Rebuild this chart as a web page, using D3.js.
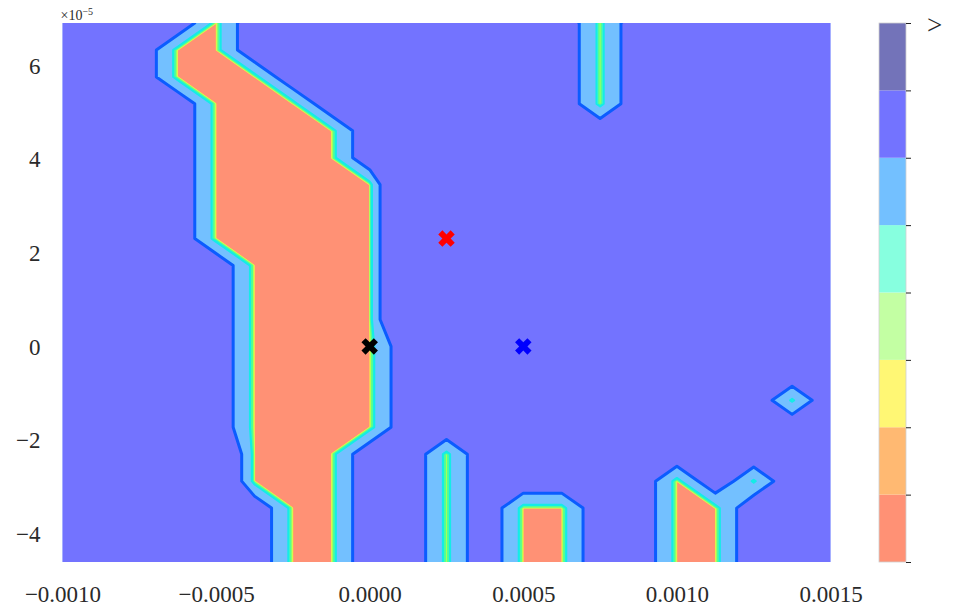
<!DOCTYPE html>
<html><head><meta charset="utf-8">
<script src="https://cdn.jsdelivr.net/npm/d3@7"></script>
<style>body{margin:0;background:#fff;} svg{display:block;}</style>
</head><body>
<svg id="chart" width="956" height="616"></svg>
<script>
// ---------------- data ----------------
const xExtent = [-0.0010, 0.0015];
const yExtent = [-4.6e-5, 6.9e-5];
// 21 x 21 grid of the field, top row (largest y) first, one character per grid point
const gridRows = [
  "....#.........y......",
  "...##.........y......",
  "...###........y......",
  "....###.......y......",
  "....####.............",
  "....####.............",
  "....#####h...........",
  "....#####h...........",
  "....#####h...........",
  ".....####h...........",
  ".....####h...........",
  ".....####h...........",
  ".....####............",
  ".....####............",
  ".....####..........c.",
  ".....####............",
  "....m###..y..........",
  "....m###..y.....#.c..",
  "......##..y.##..##...",
  "......##..y.##..##...",
  "......##..y.##..##..."
];
const cellKey   = [".", "h", "m", "#", "y", "c"];
const cellValue = [1.8, 3.7, 3.0, 0.0, 0.05, 0.125];
const levels = [0, 0.02, 0.04, 0.07, 0.12, 0.21, 1.0, 4.0, 5.0];
const bandColors = ["#ff9175", "#ffb972", "#fff774", "#c3ffa3", "#87ffdf", "#73c0ff", "#7373ff", "#7373b9"];
const lineColors = ["#ff9a62", "#f4f050", "#b4ff52", "#52ff94", "#14ece6", "#0b5cff"];
const xTicks = [-0.0010, -0.0005, 0.0, 0.0005, 0.0010, 0.0015];
const yTicks = [-4e-5, -2e-5, 0, 2e-5, 4e-5, 6e-5];
const markerX = [0.00025, 0.0005, 0.0];
const markerY = [2.3e-5, 0.0, 0.0];
const markerColors = ["#ff0000", "#0000ff", "#000000"];
const colorbarTopLabel = ">";

// ---------------- layout ----------------
const plot = {left: 62.5, right: 830.5, top: 23, bottom: 562};
const cbar = {left: 879, right: 906};
const FONT = "'Liberation Serif', 'DejaVu Serif', serif";
const TEXT = "#2a2a2a";

const svg = d3.select("#chart");
const xScale = d3.scaleLinear().domain(xExtent).range([plot.left, plot.right]);
const yScale = d3.scaleLinear().domain(yExtent).range([plot.bottom, plot.top]);

const nx = gridRows[0].length, ny = gridRows.length;
const values = [];
gridRows.forEach(r => { for (const ch of r) values.push(cellValue[cellKey.indexOf(ch)]); });
const negValues = values.map(v => -v);
const dxData = (xExtent[1] - xExtent[0]) / (nx - 1);
const dyData = (yExtent[1] - yExtent[0]) / (ny - 1);

const proj = d3.geoTransform({
  point: function(u, v) {
    this.stream.point(xScale(xExtent[0] + (u - 0.5) * dxData), yScale(yExtent[1] - (v - 0.5) * dyData));
  }
});
const path = d3.geoPath(proj);
const gen = d3.contours().size([nx, ny]).smooth(true);
const above = t => gen.contour(values, t);      // region v >= t
const below = t => gen.contour(negValues, -t);  // region v <= t

svg.append("defs").append("clipPath").attr("id", "plotclip")
  .append("rect").attr("x", plot.left).attr("y", plot.top)
  .attr("width", plot.right - plot.left).attr("height", plot.bottom - plot.top);

const g = svg.append("g").attr("clip-path", "url(#plotclip)");
g.append("rect").attr("x", plot.left).attr("y", plot.top)
  .attr("width", plot.right - plot.left).attr("height", plot.bottom - plot.top)
  .attr("fill", bandColors[5]);
[6, 7].forEach(k => g.append("path").attr("d", path(above(levels[k]))).attr("fill", bandColors[k]));
[5, 4, 3, 2, 1].forEach(k => g.append("path").attr("d", path(below(levels[k]))).attr("fill", bandColors[k - 1]));

// contour lines
[1, 2, 3, 4, 5].forEach(k => g.append("path").attr("d", path(below(levels[k])))
  .attr("fill", "none").attr("stroke", lineColors[k - 1]).attr("stroke-width", 2.2).attr("stroke-linejoin", "round"));
g.append("path").attr("d", path(above(levels[6])))
  .attr("fill", "none").attr("stroke", lineColors[5]).attr("stroke-width", 3).attr("stroke-linejoin", "round");

// markers
const sym = d3.symbol().type(d3.symbolCross).size(170);
markerX.forEach((mx, i) => {
  svg.append("path").attr("d", sym())
    .attr("transform", `translate(${xScale(mx)},${yScale(markerY[i])}) rotate(45)`)
    .attr("fill", markerColors[i]);
});

// axes
const fmtX = d3.format(".4f");
const xAxis = svg.append("g").attr("transform", `translate(0,${plot.bottom})`)
  .call(d3.axisBottom(xScale).tickValues(xTicks).tickSize(0).tickFormat(d => fmtX(d)));
xAxis.select(".domain").remove();
xAxis.selectAll("text").attr("y", 40).attr("dy", 0)
  .style("font-family", FONT).style("font-size", "23px").attr("fill", TEXT);

const yAxis = svg.append("g").attr("transform", `translate(${plot.left},0)`)
  .call(d3.axisLeft(yScale).tickValues(yTicks).tickSize(0)
    .tickFormat(d => d3.format("d")(Math.round(d * 1e5))));
yAxis.select(".domain").remove();
yAxis.selectAll("text").attr("x", -22).attr("dy", "0.34em")
  .style("font-family", FONT).style("font-size", "23px").attr("fill", TEXT);

// offset text
const off = svg.append("text").attr("x", plot.left - 2).attr("y", 20)
  .style("font-family", FONT).attr("fill", TEXT);
off.append("tspan").style("font-size", "14px").text("×10");
off.append("tspan").style("font-size", "10px").attr("dy", -5).text("−5");

// colorbar
const cbScale = d3.scaleLinear().domain([0, bandColors.length]).range([plot.bottom, plot.top]);
const cb = svg.append("g");
bandColors.forEach((c, k) => {
  cb.append("rect").attr("x", cbar.left).attr("y", cbScale(k + 1))
    .attr("width", cbar.right - cbar.left).attr("height", cbScale(k) - cbScale(k + 1))
    .attr("fill", c);
});
cb.append("rect").attr("x", cbar.left).attr("y", plot.top)
  .attr("width", cbar.right - cbar.left).attr("height", plot.bottom - plot.top)
  .attr("fill", "none").attr("stroke", "#d0d0d0").attr("stroke-width", 0.8);
const cbAxis = svg.append("g").attr("transform", `translate(${cbar.right},0)`)
  .call(d3.axisRight(cbScale).tickValues(d3.range(bandColors.length + 1)).tickSize(5)
    .tickFormat(d => d === bandColors.length ? colorbarTopLabel : ""));
cbAxis.select(".domain").remove();
cbAxis.selectAll("line").attr("stroke", "#222");
cbAxis.selectAll("text").attr("x", 21).attr("dy", "0.38em")
  .style("font-family", FONT).style("font-size", "27px").attr("fill", TEXT);
</script>
</body></html>
